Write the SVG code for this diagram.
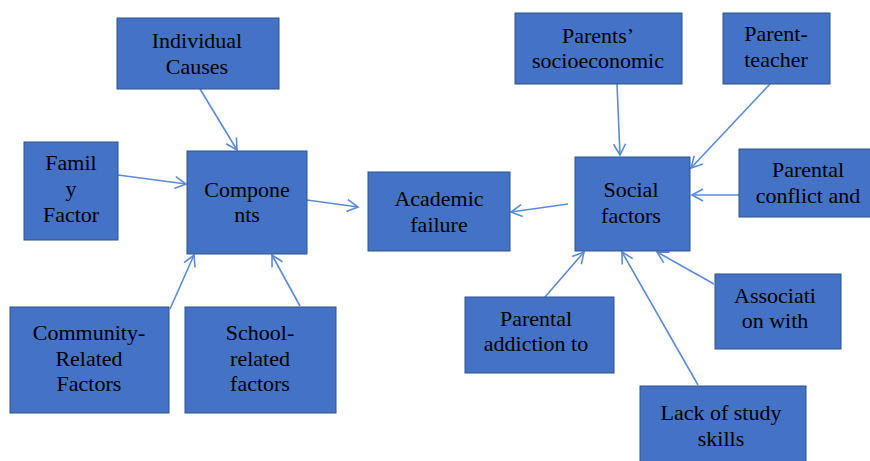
<svg xmlns="http://www.w3.org/2000/svg" width="870" height="461" viewBox="0 0 870 461">
<style>
.box{fill:#4472C4;stroke:#2F528F;stroke-width:1}
.t{font-family:'Liberation Serif','Times New Roman',Times,'DejaVu Serif',serif;font-size:22px;fill:#000;text-anchor:middle}
.c{stroke:#5B8BD6;stroke-width:1.6;fill:none;marker-end:url(#ah)}
</style>
<defs>
<marker id="ah" markerUnits="userSpaceOnUse" markerWidth="16" markerHeight="16" refX="12" refY="7" orient="auto" viewBox="0 0 16 14">
<path d="M1,1 L12,7 L1,13" fill="none" stroke="#5B8BD6" stroke-width="1.6"/>
</marker>
</defs>
<rect width="870" height="461" fill="#fff"/>
<g id="connectors">
<line class="c" x1="200" y1="89" x2="237" y2="150"/>
<line class="c" x1="118" y1="175" x2="186" y2="184"/>
<line class="c" x1="307" y1="200" x2="358" y2="207"/>
<line class="c" x1="170" y1="309" x2="194" y2="255"/>
<line class="c" x1="300" y1="306" x2="272" y2="255"/>
<line class="c" x1="568" y1="204" x2="511" y2="212"/>
<line class="c" x1="617" y1="84" x2="620" y2="155"/>
<line class="c" x1="770" y1="84" x2="691" y2="168"/>
<line class="c" x1="739" y1="195" x2="692" y2="195"/>
<line class="c" x1="714" y1="284" x2="657" y2="252"/>
<line class="c" x1="545" y1="297" x2="584" y2="252"/>
<line class="c" x1="698" y1="385" x2="622" y2="252"/>
</g>
<g id="individual">
<rect class="box" x="117" y="18" width="162" height="71"/>
<text class="t" font-family="Liberation Serif, serif" x="197" y="48">Individual</text>
<text class="t" x="197" y="74">Causes</text>
</g>
<g id="family">
<rect class="box" x="24" y="142" width="94" height="98"/>
<text class="t" x="71" y="170">Famil</text>
<text class="t" x="71" y="196">y</text>
<text class="t" x="71" y="222">Factor</text>
</g>
<g id="components">
<rect class="box" x="187" y="151" width="120" height="103"/>
<text class="t" x="247" y="197">Compone</text>
<text class="t" x="247" y="222">nts</text>
</g>
<g id="academic">
<rect class="box" x="368" y="172" width="142" height="79"/>
<text class="t" x="439" y="206">Academic</text>
<text class="t" x="439" y="232">failure</text>
</g>
<g id="community">
<rect class="box" x="10" y="307" width="159" height="106"/>
<text class="t" x="89" y="340">Community-</text>
<text class="t" x="89" y="366">Related</text>
<text class="t" x="89" y="391">Factors</text>
</g>
<g id="school">
<rect class="box" x="185" y="307" width="151" height="106"/>
<text class="t" x="260" y="340">School-</text>
<text class="t" x="260" y="366">related</text>
<text class="t" x="260" y="391">factors</text>
</g>
<g id="social">
<rect class="box" x="575" y="157" width="115" height="94"/>
<text class="t" x="631" y="197">Social</text>
<text class="t" x="631" y="223">factors</text>
</g>
<g id="parents-socio">
<rect class="box" x="515" y="13" width="167" height="71"/>
<text class="t" x="598" y="43">Parents’</text>
<text class="t" x="598" y="68">socioeconomic</text>
</g>
<g id="parent-teacher">
<rect class="box" x="723" y="13" width="107" height="71"/>
<text class="t" x="776" y="41">Parent-</text>
<text class="t" x="776" y="67">teacher</text>
</g>
<g id="conflict">
<rect class="box" x="739" y="149" width="138" height="68"/>
<text class="t" x="808" y="177">Parental</text>
<text class="t" x="808" y="203">conflict and</text>
</g>
<g id="association">
<rect class="box" x="715" y="274" width="126" height="75"/>
<text class="t" x="775" y="303">Associati</text>
<text class="t" x="775" y="328">on with</text>
</g>
<g id="addiction">
<rect class="box" x="465" y="297" width="149" height="76"/>
<text class="t" x="536" y="326">Parental</text>
<text class="t" x="536" y="351">addiction to</text>
</g>
<g id="study">
<rect class="box" x="640" y="386" width="166" height="80"/>
<text class="t" x="721" y="420">Lack of study</text>
<text class="t" x="721" y="446">skills</text>
</g>
</svg>
